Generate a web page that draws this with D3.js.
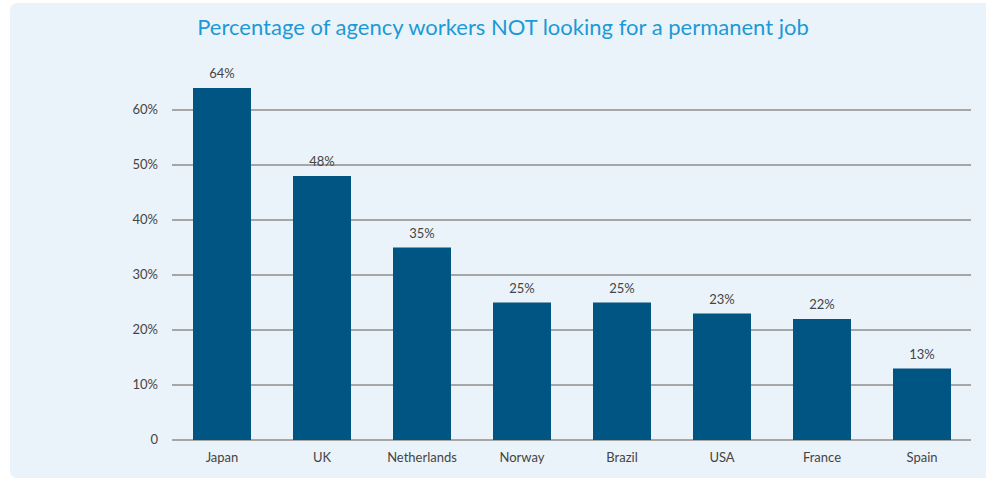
<!DOCTYPE html>
<html>
<head>
<meta charset="utf-8">
<script src="https://cdn.jsdelivr.net/npm/d3@7"></script>
<style>
  body { margin: 0; background: #fff; }
  svg { display: block; font-family: "Lato", "Open Sans", sans-serif; }
</style>
</head>
<body>
<div id="chart"></div>
<script>
  var WIDTH = 986, HEIGHT = 479;

  var countries = ["Japan", "UK", "Netherlands", "Norway", "Brazil", "USA", "France", "Spain"];
  var shares = [64, 48, 35, 25, 25, 23, 22, 13];
  var tickValues = [0, 10, 20, 30, 40, 50, 60];
  var title = "Percentage of agency workers NOT looking for a permanent job";

  var svg = d3.select("#chart").append("svg")
    .attr("width", WIDTH)
    .attr("height", HEIGHT);

  // panel behind the chart
  svg.append("rect")
    .attr("x", 10).attr("y", 3)
    .attr("width", 990).attr("height", 475)
    .attr("rx", 7)
    .style("fill", "#ebf3fa");

  svg.append("text")
    .attr("x", 503).attr("y", 35)
    .attr("text-anchor", "middle")
    .style("font-size", "22px")
    .style("fill", "#1b9ad6")
    .text(title);

  var x = d3.scaleBand()
    .domain(countries)
    .range([172, 972])
    .paddingInner(0.42)
    .paddingOuter(0.21);

  var y = d3.scaleLinear()
    .domain([0, 60])
    .range([440, 110]);

  // gridlines
  svg.append("g").selectAll("line")
    .data(tickValues)
    .enter().append("line")
    .attr("x1", 172).attr("x2", 971)
    .attr("y1", function(d) { return y(d); })
    .attr("y2", function(d) { return y(d); })
    .style("stroke", "#8c8c8c")
    .style("stroke-width", 1.5);

  // y labels
  svg.append("g").selectAll("text")
    .data(tickValues)
    .enter().append("text")
    .attr("x", 158)
    .attr("y", function(d) { return y(d) + 4; })
    .attr("text-anchor", "end")
    .style("font-size", "13px")
    .style("fill", "#444")
    .text(function(d) { return d === 0 ? "0" : d + "%"; });

  var data = countries.map(function(c, i) { return { name: c, value: shares[i] }; });

  svg.append("g").selectAll("rect")
    .data(data)
    .enter().append("rect")
    .attr("x", function(d) { return x(d.name); })
    .attr("y", function(d) { return y(d.value); })
    .attr("width", x.bandwidth())
    .attr("height", function(d) { return y(0) - y(d.value); })
    .style("fill", "#005582");

  // value labels
  svg.append("g").selectAll("text")
    .data(data)
    .enter().append("text")
    .attr("x", function(d) { return x(d.name) + x.bandwidth() / 2; })
    .attr("y", function(d) { return y(d.value) - 10; })
    .attr("text-anchor", "middle")
    .style("font-size", "13px")
    .style("fill", "#444")
    .text(function(d) { return d.value + "%"; });

  // category labels
  svg.append("g").selectAll("text")
    .data(countries)
    .enter().append("text")
    .attr("x", function(d) { return x(d) + x.bandwidth() / 2; })
    .attr("y", 462)
    .attr("text-anchor", "middle")
    .style("font-size", "13px")
    .style("fill", "#444")
    .text(function(d) { return d; });
</script>
</body>
</html>
